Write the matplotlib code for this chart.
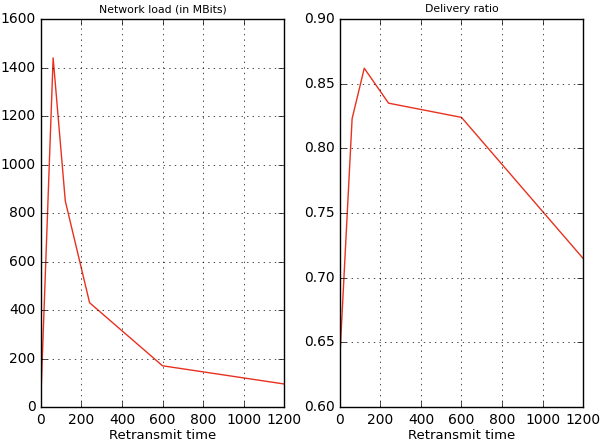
import matplotlib
matplotlib.use('Agg')
import matplotlib.pyplot as plt

retransmit = [0, 60, 120, 240, 600, 1200]
network_load = [50, 1440, 850, 430, 170, 95]
delivery_ratio = [0.64, 0.823, 0.862, 0.835, 0.824, 0.715]

plt.style.use('classic')

fig, (ax1, ax2) = plt.subplots(1, 2, figsize=(6, 4.45), dpi=100)
fig.patch.set_facecolor('white')
fig.subplots_adjust(left=0.0683, right=0.9717, top=0.957, bottom=0.0854, wspace=0.23)

ax1.plot(retransmit, network_load, color='#e8311f', lw=1)
ax1.set_title('Network load (in MBits)', fontsize=7.8)
ax1.set_xlabel('Retransmit time', fontsize=9.5, labelpad=2)
ax1.set_xlim(0, 1200)
ax1.set_ylim(0, 1600)
ax1.grid(True)

ax2.plot(retransmit, delivery_ratio, color='#e8311f', lw=1)
ax2.set_title('Delivery ratio', fontsize=7.8)
ax2.set_xlabel('Retransmit time', fontsize=9.5, labelpad=2)
ax2.set_xlim(0, 1200)
ax2.set_ylim(0.6, 0.9)
ax2.grid(True)

for ax in (ax1, ax2):
    ax.tick_params(labelsize=10)
    ax.set_xticks(range(0, 1201, 200))

fig.savefig('out.png', dpi=100, facecolor='white')
